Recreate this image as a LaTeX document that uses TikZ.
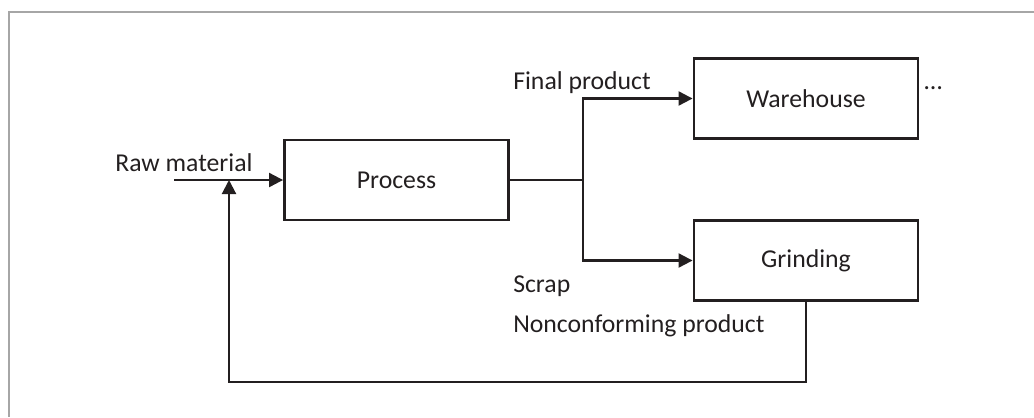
\documentclass[tikz,border=0pt]{standalone}
\usepackage{fontspec}
\setmainfont{Carlito}
\usepackage{tikz}
\usetikzlibrary{arrows.meta,positioning}
\definecolor{ink}{HTML}{231F20}

\begin{document}
\begin{tikzpicture}[
    x=0.025cm, y=-0.025cm,
    font=\fontsize{18.3}{22}\selectfont,
    stagenode/.style={rectangle, draw=ink, line width=2pt, minimum width=5.6cm, minimum height=2.0cm, text=ink},
    labelnode/.style={anchor=base west, inner sep=0pt, text=ink},
    flow/.style={draw=ink, line width=1.5pt},
    flowarrow/.style={flow, -{Triangle[length=0.35cm, width=0.35cm]}}
]
\useasboundingbox (0,0) rectangle (1034,417);
\draw[gray!70, line width=0.8pt] (9,417) -- (9,12) -- (1034,12);

\node[stagenode](process) at (396.5,180){Process};
\node[stagenode](warehouse) at (806,98.5){Warehouse};
\node[stagenode](grinding) at (806,260.5){Grinding};

\coordinate (raw) at (174,180);
\coordinate (split) at (583,180);
\coordinate (merge) at (229,180);
\coordinate (back) at (229,382);

\node[labelnode](rawlabel) at (115,171){Raw material};
\node[labelnode](finallabel) at (513,89){Final product};
\node[labelnode](more) at (924,89){\dots};
\node[labelnode](scraplabel) at (513,292){Scrap};
\node[labelnode](nclabel) at (513,332){Nonconforming product};

\draw[flowarrow] (raw) -- (process.west);
\draw[flow] (process.east) -- (split);
\draw[flowarrow] (split) |- (warehouse.west);
\draw[flowarrow] (split) |- (grinding.west);
\draw[flowarrow] (grinding.south) |- (back) -- (merge);
\end{tikzpicture}
\end{document}
